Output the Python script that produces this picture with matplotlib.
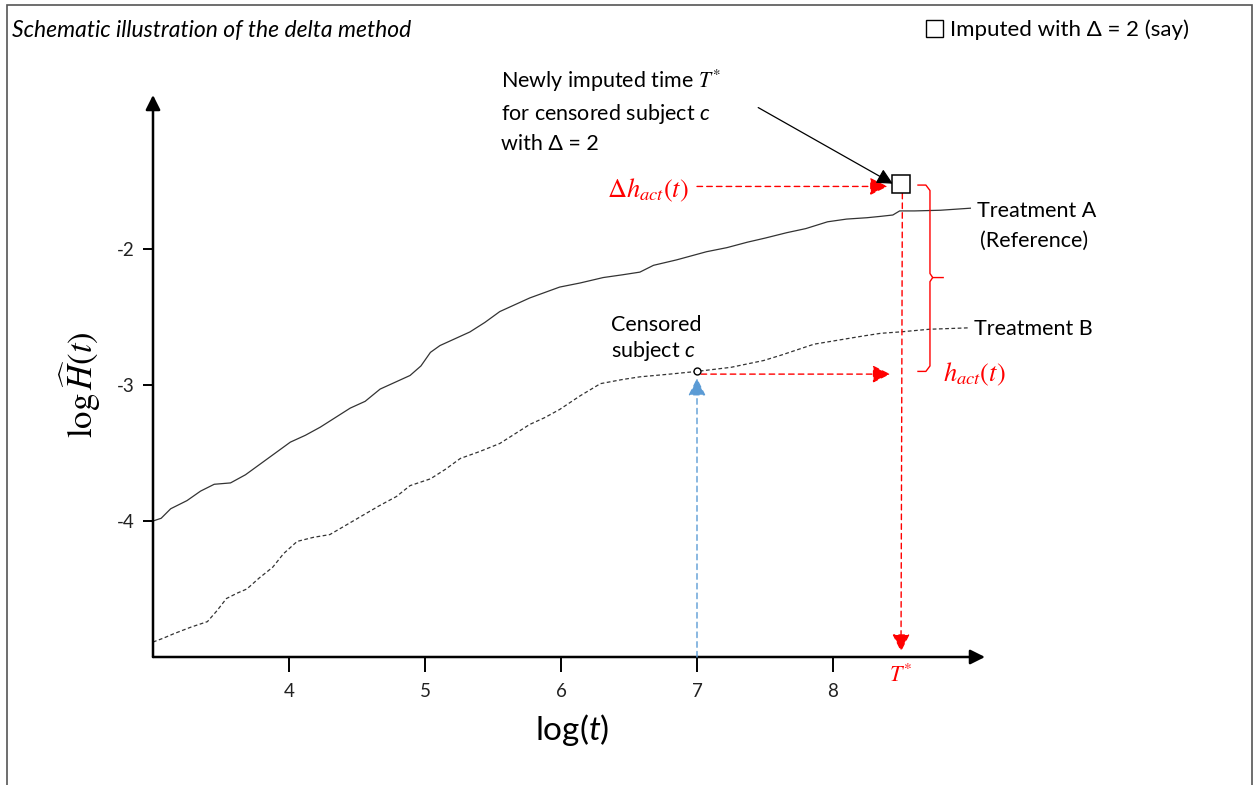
import matplotlib
matplotlib.use("Agg")
import matplotlib.pyplot as plt
from matplotlib.patches import Rectangle

plt.rcParams['font.family'] = ['Lato', 'DejaVu Sans']
plt.rcParams['mathtext.fontset'] = 'custom'
plt.rcParams['mathtext.rm'] = 'STIXGeneral'
plt.rcParams['mathtext.it'] = 'STIXGeneral:italic'
plt.rcParams['mathtext.bf'] = 'STIXGeneral:bold'
plt.rcParams['mathtext.sf'] = 'Lato:italic'

# Log cumulative hazard curves (schematic)
t_A = [3.0, 3.06, 3.13, 3.25, 3.35, 3.45, 3.57, 3.68, 3.79, 3.9, 4.01, 4.12, 4.23, 4.34,
       4.45, 4.56, 4.67, 4.78, 4.89, 4.97, 5.04, 5.11, 5.22, 5.33, 5.44, 5.55, 5.66, 5.77,
       5.88, 5.99, 6.14, 6.31, 6.45, 6.58, 6.68, 6.85, 7.07, 7.22, 7.37, 7.5, 7.66, 7.8,
       7.96, 8.1, 8.25, 8.35, 8.44, 8.49, 8.6, 8.79, 9.01]
H_A = [-4.0, -3.98, -3.91, -3.85, -3.78, -3.73, -3.72, -3.66, -3.58, -3.5, -3.42, -3.37,
       -3.31, -3.24, -3.17, -3.12, -3.03, -2.98, -2.93, -2.86, -2.76, -2.71, -2.66, -2.61,
       -2.54, -2.46, -2.41, -2.36, -2.32, -2.28, -2.25, -2.21, -2.19, -2.17, -2.12, -2.08,
       -2.02, -1.99, -1.95, -1.92, -1.88, -1.85, -1.8, -1.78, -1.77, -1.76, -1.75, -1.72,
       -1.72, -1.715, -1.7]

t_B = [3.0, 3.08, 3.15, 3.28, 3.4, 3.47, 3.54, 3.62, 3.69, 3.78, 3.88, 3.96, 4.06, 4.18,
       4.3, 4.42, 4.54, 4.66, 4.79, 4.89, 5.04, 5.15, 5.26, 5.4, 5.55, 5.66, 5.77, 5.88,
       5.99, 6.14, 6.29, 6.45, 6.58, 6.8, 7.0, 7.25, 7.49, 7.62, 7.74, 7.86, 7.98, 8.1,
       8.22, 8.35, 8.49, 8.71, 8.99]
H_B = [-4.89, -4.86, -4.83, -4.78, -4.74, -4.66, -4.57, -4.53, -4.5, -4.42, -4.34, -4.24,
       -4.15, -4.12, -4.1, -4.03, -3.96, -3.89, -3.82, -3.74, -3.69, -3.62, -3.54, -3.49,
       -3.43, -3.36, -3.29, -3.24, -3.18, -3.08, -2.99, -2.96, -2.94, -2.92, -2.9, -2.87,
       -2.82, -2.78, -2.74, -2.7, -2.68, -2.66, -2.64, -2.62, -2.61, -2.59, -2.58]

censored_t, censored_H = 7.0, -2.90
T_star = 8.5
imputed_H = -1.52

x_ticks = [4, 5, 6, 7, 8]
y_ticks = [-4, -3, -2]

W, H = 1258, 785
fig = plt.figure(figsize=(W / 100, H / 100), dpi=100)
ax = fig.add_axes([153 / W, (H - 657) / H, 832 / W, 562 / H])
ax.set_xlim(3, 3 + 832 / 136)
ax.set_ylim(-5, -5 + 562 / 136)
for s in ax.spines.values():
    s.set_visible(False)

# axes with arrow heads
ax.annotate('', xy=(1, 0), xytext=(0, 0), xycoords='axes fraction',
            arrowprops=dict(arrowstyle='-|>', lw=1.8, color='black',
                            mutation_scale=22, shrinkA=0, shrinkB=0))
ax.annotate('', xy=(0, 1), xytext=(0, 0), xycoords='axes fraction',
            arrowprops=dict(arrowstyle='-|>', lw=1.8, color='black',
                            mutation_scale=22, shrinkA=0, shrinkB=0))

ax.set_xticks(x_ticks)
ax.set_yticks(y_ticks)
ax.set_xticklabels([str(v) for v in x_ticks])
ax.set_yticklabels([str(v) for v in y_ticks])
ax.tick_params(axis='x', direction='out', length=11, width=1.4, pad=8, labelsize=13.5)
ax.tick_params(axis='y', direction='out', length=7, width=1.4, pad=6, labelsize=13.5)
for lab in ax.get_xticklabels() + ax.get_yticklabels():
    lab.set_color('#222222')

# curves
ax.plot(t_A, H_A, color='#333333', lw=0.9, clip_on=False)
ax.plot(t_B, H_B, color='#333333', lw=0.9, linestyle=(0, (3, 2)), clip_on=False)

red = '#FF0000'
blue = '#5B9BD5'
head = 27

# horizontal arrow from censored subject
ax.annotate('', xy=(8.42, censored_H - 0.02), xytext=(censored_t + 0.03, censored_H - 0.02),
            arrowprops=dict(arrowstyle='-|>', color=red, lw=1.0, linestyle=(0, (4, 3)),
                            mutation_scale=head, shrinkA=0, shrinkB=0))
# vertical arrow up to censored subject
ax.annotate('', xy=(censored_t, censored_H - 0.05), xytext=(censored_t, -5.0),
            arrowprops=dict(arrowstyle='-|>', color=blue, lw=1.0, linestyle=(0, (4, 3)),
                            mutation_scale=head, shrinkA=0, shrinkB=0))
# vertical arrow down to T*
ax.annotate('', xy=(T_star, -4.96), xytext=(T_star + 0.01, imputed_H - 0.07),
            arrowprops=dict(arrowstyle='-|>', color=red, lw=1.0, linestyle=(0, (4, 3)),
                            mutation_scale=head, shrinkA=0, shrinkB=0))
# delta h arrow
ax.annotate('', xy=(8.4, imputed_H - 0.02), xytext=(7.0, imputed_H - 0.02),
            arrowprops=dict(arrowstyle='-|>', color=red, lw=1.0, linestyle=(0, (4, 3)),
                            mutation_scale=head, shrinkA=0, shrinkB=0))

# markers
ax.plot([censored_t], [censored_H], marker='o', ms=5, mfc='white', mec='black',
        mew=1.0, clip_on=False, zorder=5)
ax.plot([T_star], [imputed_H], marker='s', ms=13, mfc='white', mec='black',
        mew=1.1, clip_on=False, zorder=5)

# brace between imputed value and censored level
bx0, bx1, bx2 = 8.625, 8.713, 8.81
ymid = (imputed_H + censored_H) / 2
ax.plot([bx0, bx1 - 0.03, bx1, bx1, bx1 + 0.02, bx2], [imputed_H - 0.01, imputed_H - 0.01,
        imputed_H - 0.05, ymid + 0.03, ymid, ymid], color=red, lw=1.0, clip_on=False)
ax.plot([bx0, bx1 - 0.03, bx1, bx1, bx1 + 0.02], [censored_H, censored_H, censored_H + 0.04,
        ymid - 0.03, ymid], color=red, lw=1.0, clip_on=False)

# red labels
ax.text(6.94, imputed_H - 0.05, r'$\Delta h_{act}(t)$', color=red, fontsize=19,
        ha='right', va='center')
ax.text(8.81, censored_H - 0.02, r'$h_{act}(t)$', color=red, fontsize=19,
        ha='left', va='center')
ax.text(T_star, -5.05, r'$T^{*}$', color=red, fontsize=16, ha='center', va='top')

# curve labels
ax.text(9.06, -1.72, 'Treatment A', fontsize=15.5, ha='left', va='center')
ax.text(9.08, -1.94, '(Reference)', fontsize=15.5, ha='left', va='center')
ax.text(9.04, -2.585, 'Treatment B', fontsize=15.5, ha='left', va='center')
ax.text(6.37, -2.66, 'Censored\nsubject $\\mathsf{c}$', fontsize=15.5, ha='left',
        va='center', linespacing=1.25)

# imputed time annotation
ax.annotate('', xy=(8.44, imputed_H - 0.0), xytext=(7.45, -0.96),
            arrowprops=dict(arrowstyle='-|>', color='black', lw=0.9,
                            mutation_scale=24, shrinkA=0, shrinkB=0))
ax.text(5.56, -0.67, 'Newly imputed time $T^{*}$\nfor censored subject $\\mathsf{c}$\nwith \u0394 = 2',
        fontsize=15.5, ha='left', va='top', linespacing=1.45)

# axis labels
ax.text(3 + (80 - 153) / 136, -5 + (785 - 385 - 128) / 136, r'$\log\widehat{H}(t)$',
        fontsize=25, rotation=90, ha='center', va='center')
ax.text(3 + (572 - 153) / 136, -5 - (730 - 657) / 136, 'log($\\mathsf{t}$)',
        fontsize=24, ha='center', va='center')

# title and legend
fig.text(12 / W, 1 - 30 / H, 'Schematic illustration of the delta method', fontsize=16.5,
         style='italic', ha='left', va='center')
fig.add_artist(Rectangle((926 / W, 1 - 37 / H), 17 / W, 17 / H, transform=fig.transFigure,
                         facecolor='white', edgecolor='black', lw=1.0))
fig.text(950 / W, 1 - 30 / H, 'Imputed with \u0394 = 2 (say)', fontsize=16,
         ha='left', va='center')

# outer frame
fig.add_artist(Rectangle((7 / W, -0.05), (1252 - 7) / W, 1 - 4.5 / H + 0.05,
                         transform=fig.transFigure, facecolor='none',
                         edgecolor='#555555', lw=1.2))

fig.savefig('out.png', dpi=100)
